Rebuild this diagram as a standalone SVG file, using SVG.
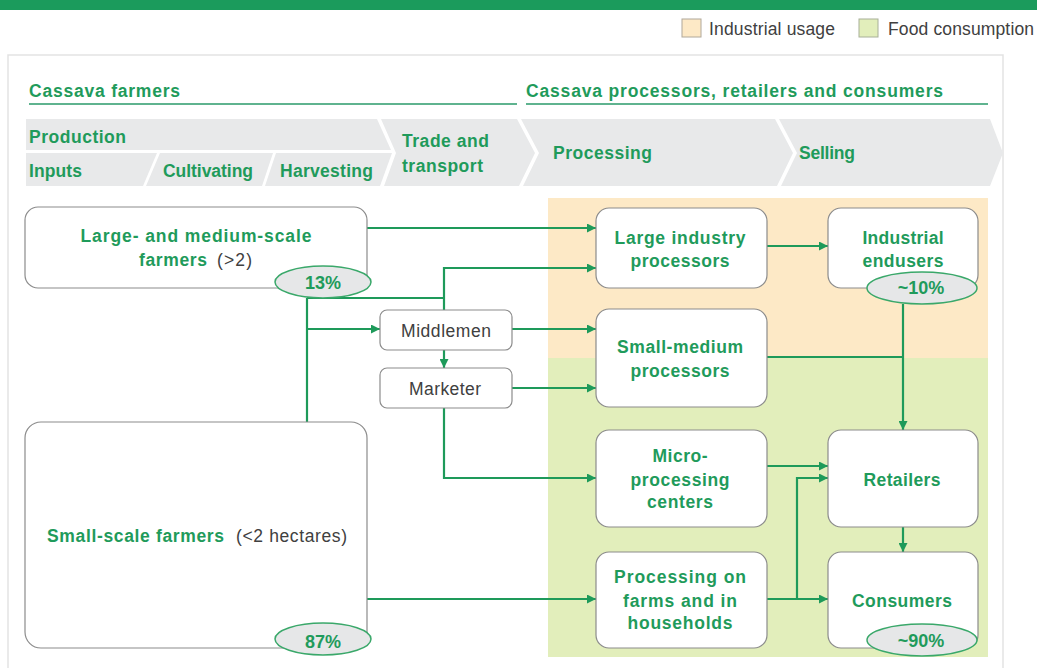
<svg xmlns="http://www.w3.org/2000/svg" width="1037" height="668" viewBox="0 0 1037 668">
<defs>
<style>
.b{font-family:"Liberation Sans",Arial,sans-serif;font-weight:bold;font-size:17.5px;fill:#1f9b5b}
.p{font-family:"Liberation Sans",Arial,sans-serif;font-weight:bold;font-size:18px;fill:#1f9b5b}
.r{font-family:"Liberation Sans",Arial,sans-serif;font-size:17.5px;fill:#404040}
.node{fill:#ffffff;stroke:#8c8c8c;stroke-width:1.2}
.pct{fill:#e6e7e8;stroke:#3aa86a;stroke-width:1.5}
.chev{fill:#e8e9ea}
.conn path{fill:none;stroke:#1e9a5a;stroke-width:2.2}
.ul{stroke:#2a9a6a;stroke-width:1.3}
</style>
<marker id="ah" markerUnits="userSpaceOnUse" markerWidth="10" markerHeight="9" refX="9" refY="4.5" orient="auto">
<path d="M0,0 L9,4.5 L0,9 z" fill="#1e9a5a"/>
</marker>
</defs>
<rect x="0" y="0" width="1037" height="668" fill="#ffffff"/>
<rect x="0" y="0" width="1037" height="10" fill="#1b9b5c"/>
<g id="legend">
<rect x="682" y="19" width="19" height="18" fill="#fde9c6" stroke="#b0a89a" stroke-width="1"/>
<text class="r" x="709" y="35" textLength="126">Industrial usage</text>
<rect x="859" y="19" width="19" height="18" fill="#e2eebb" stroke="#a8b098" stroke-width="1"/>
<text class="r" x="888" y="35" textLength="146">Food consumption</text>
</g>
<rect x="8" y="55" width="995" height="625" fill="none" stroke="#e3e3e3" stroke-width="1.5"/>
<g id="headers">
<text class="b" x="29" y="97" textLength="151">Cassava farmers</text>
<line class="ul" x1="29" y1="104" x2="517" y2="104"/>
<text class="b" x="526" y="97" textLength="417">Cassava processors, retailers and consumers</text>
<line class="ul" x1="526" y1="104" x2="988" y2="104"/>
</g>
<g id="stages">
<polygon class="chev" points="26,119 377,119 391,150 26,150"/>
<polygon class="chev" points="26,153 157,153 143,186 26,186"/>
<polygon class="chev" points="160,153 273,153 262,186 146,186"/>
<polygon class="chev" points="276,153 392,153 380,186 265,186"/>
<polygon class="chev" points="381,119 517,119 535,153 519,186 384,186 396,153"/>
<polygon class="chev" points="521,119 775,119 793,153 777,186 523,186 539,153"/>
<polygon class="chev" points="779,119 990,119 1003,153 990,186 781,186 797,153"/>
<text class="b" x="29" y="143" textLength="97">Production</text>
<text class="b" x="29" y="177" textLength="53">Inputs</text>
<text class="b" x="163" y="177" textLength="90">Cultivating</text>
<text class="b" x="280" y="177" textLength="93">Harvesting</text>
<text class="b" x="402" y="147" textLength="87">Trade and</text>
<text class="b" x="402" y="172" textLength="81">transport</text>
<text class="b" x="553" y="159" textLength="99">Processing</text>
<text class="b" x="799" y="159" textLength="56">Selling</text>
</g>
<g id="zones">
<rect x="548" y="198" width="440" height="160" fill="#fde9c6"/>
<rect x="548" y="358" width="440" height="299" fill="#e2eebb"/>
</g>
<g class="conn" id="connectors">
<path d="M367,228 H596" marker-end="url(#ah)"/>
<path d="M307,298 V422"/>
<path d="M307,298 H444"/>
<path d="M444,310 V268 H596" marker-end="url(#ah)"/>
<path d="M307,329 H380" marker-end="url(#ah)"/>
<path d="M512,329 H596" marker-end="url(#ah)"/>
<path d="M444,350 V368" marker-end="url(#ah)"/>
<path d="M512,388 H596" marker-end="url(#ah)"/>
<path d="M444,408 V478 H596" marker-end="url(#ah)"/>
<path d="M367,599 H596" marker-end="url(#ah)"/>
<path d="M767,246 H828" marker-end="url(#ah)"/>
<path d="M903,304 V430" marker-end="url(#ah)"/>
<path d="M767,357 H903"/>
<path d="M767,466 H828" marker-end="url(#ah)"/>
<path d="M767,599 H828" marker-end="url(#ah)"/>
<path d="M797,599 V478 H828" marker-end="url(#ah)"/>
<path d="M903,527 V552" marker-end="url(#ah)"/>
</g>
<g id="large-farmers">
<rect class="node" x="25" y="207" width="342" height="81" rx="13"/>
<text class="b" x="196" y="242" text-anchor="middle" textLength="231">Large- and medium-scale</text>
<text x="139" y="266"><tspan class="b" textLength="68">farmers</tspan><tspan class="r" x="217" textLength="35">(&gt;2)</tspan></text>
<ellipse class="pct" cx="323" cy="282" rx="48" ry="16"/>
<text class="p" x="323" y="289" text-anchor="middle">13%</text>
</g>
<g id="small-farmers">
<rect class="node" x="25" y="422" width="342" height="226" rx="16"/>
<text x="47" y="542"><tspan class="b" textLength="177">Small-scale  farmers</tspan><tspan class="r" x="236" textLength="111">(&lt;2 hectares)</tspan></text>
<ellipse class="pct" cx="323" cy="639" rx="48" ry="16"/>
<text class="p" x="323" y="648" text-anchor="middle">87%</text>
</g>
<g id="middlemen">
<rect class="node" x="380" y="310" width="132" height="40" rx="7"/>
<text class="r" x="446" y="337" text-anchor="middle" textLength="90">Middlemen</text>
</g>
<g id="marketer">
<rect class="node" x="380" y="368" width="132" height="40" rx="7"/>
<text class="r" x="445" y="395" text-anchor="middle" textLength="72">Marketer</text>
</g>
<g id="large-industry">
<rect class="node" x="596" y="208" width="171" height="80" rx="13"/>
<text class="b" x="680" y="244" text-anchor="middle" textLength="131">Large industry</text>
<text class="b" x="680" y="267" text-anchor="middle" textLength="99">processors</text>
</g>
<g id="industrial-endusers">
<rect class="node" x="828" y="208" width="150" height="80" rx="13"/>
<text class="b" x="903" y="244" text-anchor="middle" textLength="81">Industrial</text>
<text class="b" x="903" y="267" text-anchor="middle" textLength="81">endusers</text>
<ellipse class="pct" cx="922" cy="288" rx="55" ry="16"/>
<text class="p" x="921" y="294" text-anchor="middle">~10%</text>
</g>
<g id="small-medium">
<rect class="node" x="596" y="309" width="171" height="98" rx="13"/>
<text class="b" x="680" y="353" text-anchor="middle" textLength="126">Small-medium</text>
<text class="b" x="680" y="377" text-anchor="middle" textLength="99">processors</text>
</g>
<g id="micro">
<rect class="node" x="596" y="430" width="171" height="97" rx="13"/>
<text class="b" x="680" y="462" text-anchor="middle" textLength="55">Micro-</text>
<text class="b" x="680" y="486" text-anchor="middle" textLength="99">processing</text>
<text class="b" x="680" y="508" text-anchor="middle" textLength="66">centers</text>
</g>
<g id="retailers">
<rect class="node" x="828" y="430" width="150" height="97" rx="13"/>
<text class="b" x="902" y="486" text-anchor="middle" textLength="77">Retailers</text>
</g>
<g id="farm-processing">
<rect class="node" x="596" y="552" width="171" height="96" rx="13"/>
<text class="b" x="680" y="583" text-anchor="middle" textLength="132">Processing on</text>
<text class="b" x="680" y="607" text-anchor="middle" textLength="114">farms and in</text>
<text class="b" x="680" y="629" text-anchor="middle" textLength="105">households</text>
</g>
<g id="consumers">
<rect class="node" x="828" y="552" width="150" height="96" rx="13"/>
<text class="b" x="902" y="607" text-anchor="middle" textLength="100">Consumers</text>
<ellipse class="pct" cx="922" cy="640" rx="55" ry="16"/>
<text class="p" x="921" y="647" text-anchor="middle">~90%</text>
</g>
</svg>
